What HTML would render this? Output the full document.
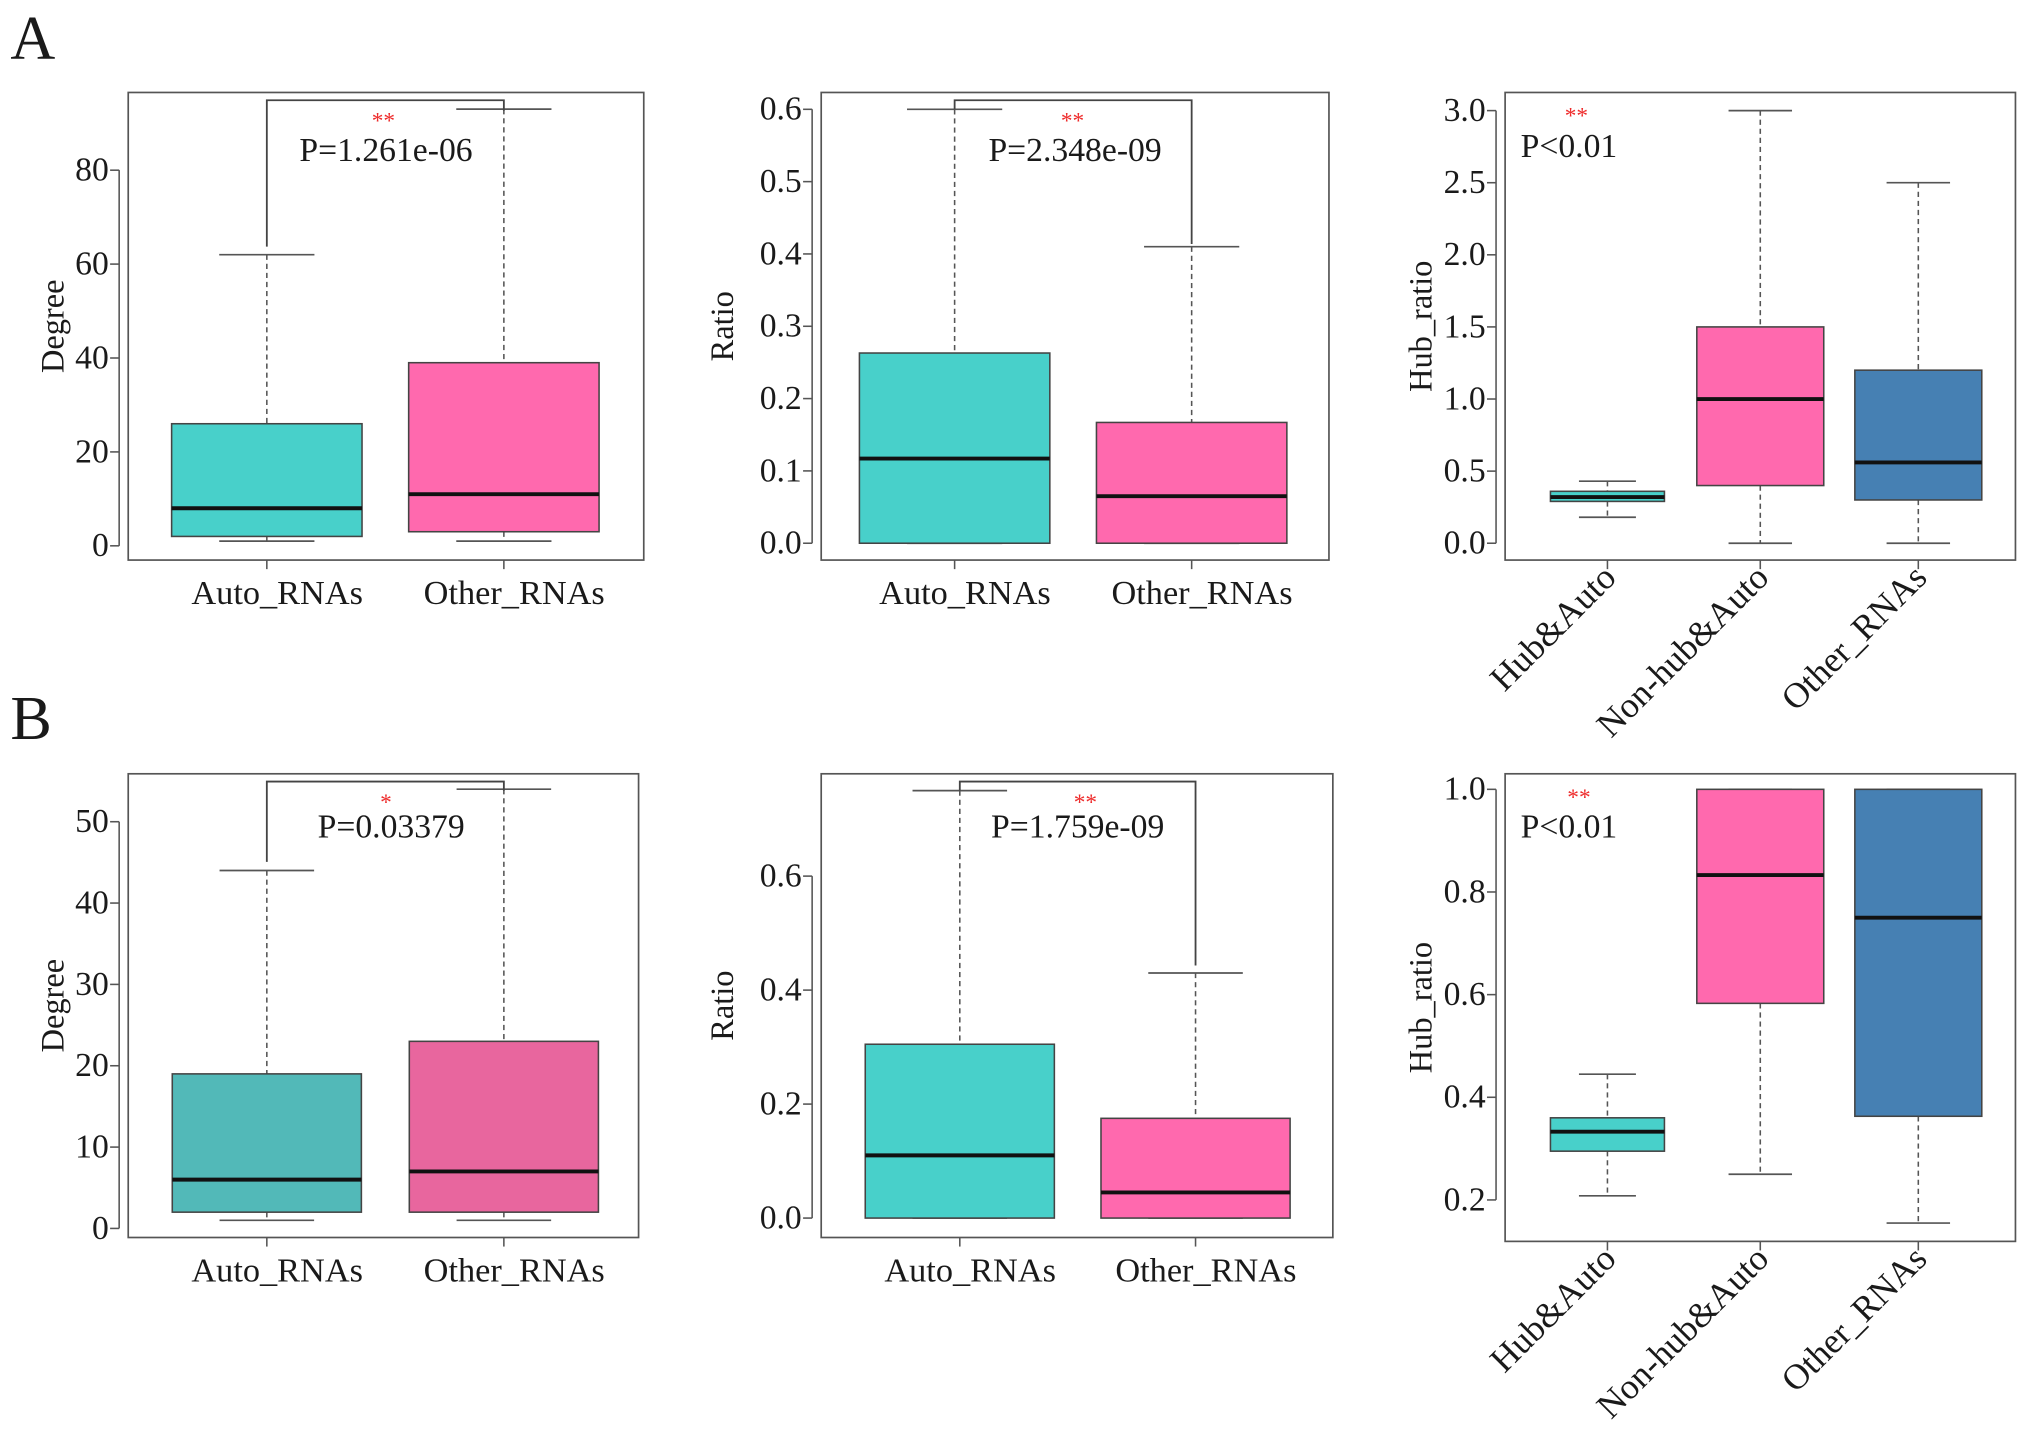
<!DOCTYPE html>
<html><head><meta charset="utf-8"><style>
html,body{margin:0;padding:0;background:#fff;}
svg{display:block;}
text{font-family:"Liberation Serif",serif;fill:#1a1a1a;}
</style></head><body>
<svg id="fig" width="2031" height="1431" viewBox="0 0 1568 1104" xmlns="http://www.w3.org/2000/svg">
<text x="8" y="45" font-size="48">A</text>
<text x="8" y="570" font-size="48">B</text>
</svg>
<script>
// ---- data ----
const catsTwo = ["Auto_RNAs", "Other_RNAs"];
const catsThree = ["Hub&Auto", "Non-hub&Auto", "Other_RNAs"];

const a1Lo = [1, 1], a1Q1 = [2, 3], a1Med = [8, 11], a1Q3 = [26, 39], a1Hi = [62, 93];
const a1Ticks = [0, 20, 40, 60, 80];
const a2Lo = [0, 0], a2Q1 = [0, 0], a2Med = [0.117, 0.065], a2Q3 = [0.263, 0.167], a2Hi = [0.6, 0.41];
const a2Ticks = ["0.0", "0.1", "0.2", "0.3", "0.4", "0.5", "0.6"];
const a3Lo = [0.18, 0, 0], a3Q1 = [0.29, 0.4, 0.3], a3Med = [0.32, 1.0, 0.56], a3Q3 = [0.36, 1.5, 1.2], a3Hi = [0.43, 3.0, 2.5];
const a3Ticks = ["0.0", "0.5", "1.0", "1.5", "2.0", "2.5", "3.0"];

const b1Lo = [1, 1], b1Q1 = [2, 2], b1Med = [6, 7], b1Q3 = [19, 23], b1Hi = [44, 54];
const b1Ticks = [0, 10, 20, 30, 40, 50];
const b2Lo = [0, 0], b2Q1 = [0, 0], b2Med = [0.11, 0.045], b2Q3 = [0.305, 0.175], b2Hi = [0.75, 0.43];
const b2Ticks = ["0.0", "0.2", "0.4", "0.6"];
const b3Lo = [0.208, 0.25, 0.155], b3Q1 = [0.295, 0.583, 0.363], b3Med = [0.333, 0.833, 0.75], b3Q3 = [0.36, 1.0, 1.0], b3Hi = [0.445, 1.0, 1.0];
const b3Ticks = ["0.2", "0.4", "0.6", "0.8", "1.0"];

const NS = "http://www.w3.org/2000/svg";
const svg = document.getElementById("fig");
function mk(tag, attrs, parent) {
  const e = document.createElementNS(NS, tag);
  for (const k in attrs) e.setAttribute(k, attrs[k]);
  (parent || svg).appendChild(e);
  return e;
}

function panel(p) {
  const g = mk("g", {});
  
  
  const ys = v => p.y0 + (v - p.v0) * (p.y1 - p.y0) / (p.v1 - p.v0);
  const n = p.cats.length;
  const frame = mk("rect", {x: p.fx0, y: p.fy0, width: p.fx1 - p.fx0, height: p.fy1 - p.fy0, fill: "none", stroke: "#555", "stroke-width": 1.3}, g);
  
  
  const tv = p.ticks.map(Number);
  const axis = mk("line", {x1: p.fx0 - 7, x2: p.fx0 - 7, y1: ys(tv[0]), y2: ys(tv[tv.length - 1]), stroke: "#555", "stroke-width": 1.2}, g);
  
  
  p.ticks.forEach((t, i) => {
    const y = ys(tv[i]);
    mk("line", {x1: p.fx0 - 14, x2: p.fx0 - 7, y1: y, y2: y, stroke: "#555", "stroke-width": 1.2}, g);
    const tx = mk("text", {x: p.fx0 - 15, y: y + 8, "font-size": 26, "text-anchor": "end"}, g);
    tx.textContent = t;
    
    
  });
  const yt = mk("text", {transform: `translate(${p.ylx},${(p.fy0 + p.fy1) / 2}) rotate(-90)`, "font-size": 25, "text-anchor": "middle"}, g);
  yt.textContent = p.ylabel;
  
  
  for (let i = 0; i < n; i++) {
    const cx = p.cx[i], hw = p.hw[i];
    const wl = mk("line", {x1: cx, x2: cx, y1: ys(p.hi[i]), y2: ys(p.q3[i]), stroke: "#555", "stroke-width": 1.2, "stroke-dasharray": "4,3"}, g);
    
    
    const wl2 = mk("line", {x1: cx, x2: cx, y1: ys(p.q1[i]), y2: ys(p.lo[i]), stroke: "#555", "stroke-width": 1.2, "stroke-dasharray": "4,3"}, g);
    
    
    const c1 = mk("line", {x1: cx - hw / 2, x2: cx + hw / 2, y1: ys(p.hi[i]), y2: ys(p.hi[i]), stroke: "#555", "stroke-width": 1.3}, g);
    
    
    const c2 = mk("line", {x1: cx - hw / 2, x2: cx + hw / 2, y1: ys(p.lo[i]), y2: ys(p.lo[i]), stroke: "#555", "stroke-width": 1.3}, g);
    
    
    const b = mk("rect", {x: cx - hw, y: ys(p.q3[i]), width: 2 * hw, height: ys(p.q1[i]) - ys(p.q3[i]), fill: p.colors[i], stroke: "#444", "stroke-width": 1.2}, g);
    
    
    const m = mk("line", {x1: cx - hw, x2: cx + hw, y1: ys(p.med[i]), y2: ys(p.med[i]), stroke: "#111", "stroke-width": 3}, g);
    
    
    mk("line", {x1: cx, x2: cx, y1: p.fy1, y2: p.fy1 + 7, stroke: "#555", "stroke-width": 1.2}, g);
    let lab;
    if (p.rot) {
      lab = mk("text", {transform: `translate(${cx + 8},${p.fy1 + 15}) rotate(-45)`, "font-size": 27.5, "text-anchor": "end"}, g);
    } else {
      lab = mk("text", {x: cx + 8, y: p.fy1 + 34, "font-size": 26.5, "text-anchor": "middle"}, g);
    }
    lab.textContent = p.cats[i];
    
    
  }
  if (p.bracket) {
    const [yb, lEnd, rEnd] = p.bracket;
    const br = mk("path", {d: `M${p.cx[0]},${lEnd} L${p.cx[0]},${yb} L${p.cx[1]},${yb} L${p.cx[1]},${rEnd}`, fill: "none", stroke: "#444", "stroke-width": 1.4}, g);
    
    
  }
  const st = mk("text", {x: p.starX, y: p.starY, "font-size": 18, "text-anchor": "middle", style: "fill:#ee2a2a"}, g);
  st.textContent = p.stars;
  
  
  const pt = mk("text", {x: p.pX, y: p.pY, "font-size": 26, "text-anchor": p.pAnchor}, g);
  pt.textContent = p.ptext;
  
  
}

const teal = "#48d0ca", pink = "#ff69ae", blue = "#4680b3";
panel({name: "panel-a-degree", cats: catsTwo, lo: a1Lo, q1: a1Q1, med: a1Med, q3: a1Q3, hi: a1Hi, ticks: a1Ticks,
  v0: 0, y0: 421, v1: 80, y1: 131, fx0: 99, fx1: 497, fy0: 71, fy1: 432, cx: [206, 389], hw: [73.5, 73.5], colors: [teal, pink],
  ylabel: "Degree", ylx: 49, bracket: [77, 190, 85], stars: "**", starX: 296, starY: 99, ptext: "P=1.261e-06", pX: 298, pY: 124, pAnchor: "middle"});
panel({name: "panel-a-ratio", cats: catsTwo, lo: a2Lo, q1: a2Q1, med: a2Med, q3: a2Q3, hi: a2Hi, ticks: a2Ticks,
  v0: 0, y0: 419, v1: 0.6, y1: 84, fx0: 634, fx1: 1026, fy0: 71, fy1: 432, cx: [737, 920], hw: [73.5, 73.5], colors: [teal, pink],
  ylabel: "Ratio", ylx: 566, bracket: [77, 84, 188], stars: "**", starX: 828, starY: 99, ptext: "P=2.348e-09", pX: 830, pY: 124, pAnchor: "middle"});
panel({name: "panel-a-hub-ratio", cats: catsThree, lo: a3Lo, q1: a3Q1, med: a3Med, q3: a3Q3, hi: a3Hi, ticks: a3Ticks,
  v0: 0, y0: 419, v1: 3.0, y1: 85, fx0: 1162, fx1: 1556, fy0: 71, fy1: 432, cx: [1241, 1359, 1481], hw: [44, 49, 49], colors: [teal, pink, blue], rot: true,
  ylabel: "Hub_ratio", ylx: 1105, stars: "**", starX: 1217, starY: 95, ptext: "P<0.01", pX: 1174, pY: 121, pAnchor: "start"});
panel({name: "panel-b-degree", cats: catsTwo, lo: b1Lo, q1: b1Q1, med: b1Med, q3: b1Q3, hi: b1Hi, ticks: b1Ticks,
  v0: 0, y0: 948, v1: 50, y1: 634, fx0: 99, fx1: 493, fy0: 597, fy1: 955, cx: [206, 389], hw: [73, 73], colors: ["#52b9b8", "#e8669e"],
  ylabel: "Degree", ylx: 49, bracket: [603, 665, 610], stars: "*", starX: 298, starY: 625, ptext: "P=0.03379", pX: 302, pY: 646, pAnchor: "middle"});
panel({name: "panel-b-ratio", cats: catsTwo, lo: b2Lo, q1: b2Q1, med: b2Med, q3: b2Q3, hi: b2Hi, ticks: b2Ticks,
  v0: 0, y0: 940, v1: 0.6, y1: 676, fx0: 634, fx1: 1029, fy0: 597, fy1: 955, cx: [741, 923], hw: [73, 73], colors: [teal, pink],
  ylabel: "Ratio", ylx: 566, bracket: [603, 610, 745], stars: "**", starX: 838, starY: 625, ptext: "P=1.759e-09", pX: 832, pY: 646, pAnchor: "middle"});
panel({name: "panel-b-hub-ratio", cats: catsThree, lo: b3Lo, q1: b3Q1, med: b3Med, q3: b3Q3, hi: b3Hi, ticks: b3Ticks,
  v0: 0.2, y0: 926, v1: 1.0, y1: 609, fx0: 1162, fx1: 1556, fy0: 597, fy1: 958, cx: [1241, 1359, 1481], hw: [44, 49, 49], colors: [teal, pink, blue], rot: true,
  ylabel: "Hub_ratio", ylx: 1105, stars: "**", starX: 1219, starY: 621, ptext: "P<0.01", pX: 1174, pY: 646, pAnchor: "start"});
</script>
</body></html>
